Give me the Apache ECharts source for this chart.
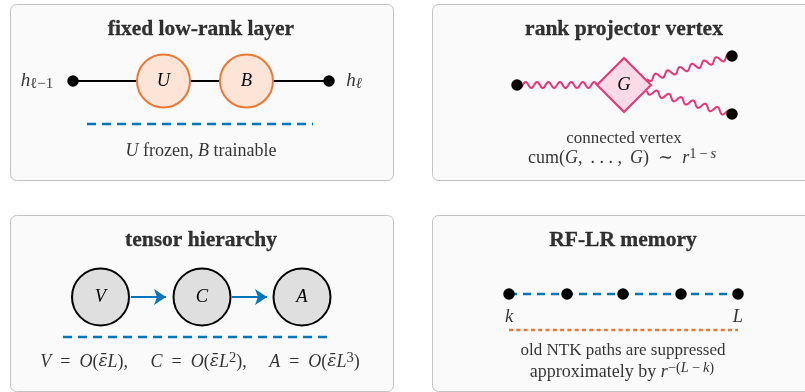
<!DOCTYPE html>
<html>
<head>
<meta charset="utf-8">
<script src="https://cdn.jsdelivr.net/npm/echarts@6/dist/echarts.min.js"></script>
<style>
  html, body { margin: 0; padding: 0; background: #ffffff; }
  #main { width: 805px; height: 392px; }
</style>
</head>
<body>
<div id="main"></div>
<script>
// ---- panel frames and titles ----
const panelTitles = ['fixed low-rank layer', 'rank projector vertex', 'tensor hierarchy', 'RF-LR memory'];
const panelBoxes = [[10, 4, 393, 180], [432, 4, 815, 180], [10, 215, 393, 391], [432, 215, 815, 391]];
const titleAnchors = [[201, 29], [624, 29], [201, 240], [623, 240]];

// ---- fixed low-rank layer ----
const layerPorts = [[73, 81], [329, 81]];
const layerFactorNames = ['U', 'B'];
const layerFactorCoords = [[163.5, 81], [246.5, 81]];
const layerNote = [[87, 124], [313, 124]];

// ---- rank projector vertex ----
const vertexName = 'G';
const vertexCoord = [624, 85];
const legEnds = [[517, 85], [732, 56], [732, 114]];
const legEdges = [[517, 85, 597, 85], [647, 79, 732, 56], [647, 91, 732, 114]];

// ---- tensor hierarchy ----
const tensorNames = ['V', 'C', 'A'];
const tensorCoords = [[100.5, 297], [202, 297], [302, 297]];
const tensorArrows = [[[131, 297], [166, 297]], [[232, 297], [267, 297]]];
const tensorNote = [[63, 337], [333, 337]];

// ---- RF-LR memory ----
const memoryLayers = [509, 567, 623, 681, 738];
const memoryRow = 294;
const memoryEndLabels = [['k', [509, 317]], ['L', [738, 317]]];
const memoryNote = [[509, 330], [738, 330]];

// ---- captions (rich-text formatted) ----
const EN = '\u2002';   // en space, used for relation spacing
const TH = '\u2009';   // thin space
const captionTexts = [
  '{hi|h}{sub|ℓ−1}',
  '{hi|h}{subit|ℓ}',
  '{it|U}{rm| frozen, }{it|B}{rm| trainable}',
  '{sm|connected vertex}',
  '{rm|cum(}{it|G}{rm|,' + TH + ' . . . ,' + TH + ' }{it|G}{rm|)' + EN + '∼' + EN + '}{it|r}{sup|1' + TH + '−' + TH + '}{supit|s}',
  '{it|V}{rm|' + EN + '=' + EN + '}{it|O}{rm|(}{eps|ε̄}{it|L}{rm|),     }{it|C}{rm|' + EN + '=' + EN + '}{it|O}{rm|(}{eps|ε̄}{it|L}{sup|2}{rm|),     }{it|A}{rm|' + EN + '=' + EN + '}{it|O}{rm|(}{eps|ε̄}{it|L}{sup|3}{rm|)}',
  '{sm|old NTK paths are suppressed}',
  '{rm|approximately by }{it|r}{sup|−(}{supit|L}{sup|' + TH + '−' + TH + '}{supit|k}{sup|)}'
];
const captionCoords = [[37, 81], [354, 81], [201, 151], [624, 139], [622, 158], [200, 362], [623, 351], [622, 372]];

const SERIF = "'Liberation Serif','DejaVu Serif','Times New Roman',serif";
const INK = '#000000';
const BLUE = '#0077bb';
const ORANGE = '#ee7733';
const MAGENTA = '#ee3377';

function tok(size, italic, extra) {
  return Object.assign({
    fontFamily: SERIF, fontSize: size, fontStyle: italic ? 'italic' : 'normal',
    color: INK, lineHeight: 22, textBorderWidth: 0
  }, extra || {});
}
const rich = {
  rm: tok(18, false),
  it: tok(18, true),
  eps: tok(17, true, { fontFamily: "'DejaVu Serif','Liberation Serif',serif" }),
  hi: tok(19, true),
  sm: tok(17, false),
  smit: tok(17, true),
  sup: tok(14.5, false, { lineHeight: 12, verticalAlign: 'top' }),
  supit: tok(14.5, true, { lineHeight: 12, verticalAlign: 'top' }),
  sub: tok(15, false, { lineHeight: 12, verticalAlign: 'bottom' }),
  subit: tok(15, true, { lineHeight: 12, verticalAlign: 'bottom' })
};

const chart = echarts.init(document.getElementById('main'), null, { renderer: 'canvas' });

function textPoints(coords, texts) {
  return coords.map((c, i) => ({ value: c, label: { formatter: texts[i] } }));
}

function dashedLine(points, color, dash, z) {
  return {
    type: 'line', data: points, symbol: 'none', silent: true, z: z || 2,
    lineStyle: { color: color, width: 2.6, type: dash },
    emphasis: { disabled: true }
  };
}

const nodeLabel = {
  show: true, position: 'inside', formatter: '{b}',
  fontFamily: SERIF, fontStyle: 'italic', fontSize: 18.5, color: INK, textBorderWidth: 0
};

chart.setOption({
  animation: false,
  backgroundColor: '#ffffff',
  grid: { left: 0, right: 0, top: 0, bottom: 0 },
  xAxis: { type: 'value', min: 0, max: 805, show: false },
  yAxis: { type: 'value', min: 0, max: 392, inverse: true, show: false },
  series: [
    // panel frames
    {
      type: 'custom', silent: true, z: 0,
      data: panelBoxes,
      renderItem: function (params, api) {
        const p0 = api.coord([api.value(0), api.value(1)]);
        const p1 = api.coord([api.value(2), api.value(3)]);
        return {
          type: 'rect',
          shape: { x: p0[0] + 0.5, y: p0[1] + 0.5, width: p1[0] - p0[0], height: p1[1] - p0[1], r: 6 },
          style: { fill: '#fafafa', stroke: '#c2c2c2', lineWidth: 1 }
        };
      }
    },
    // titles
    {
      type: 'scatter', silent: true, z: 6, symbolSize: 1,
      itemStyle: { color: 'transparent' },
      data: titleAnchors.map((c, i) => ({ value: c, name: panelTitles[i] })),
      label: {
        show: true, position: 'inside', formatter: '{b}',
        fontFamily: SERIF, fontWeight: 'bold', fontSize: 21.5, color: INK,
        textBorderColor: INK, textBorderWidth: 0.3
      },
      emphasis: { disabled: true }
    },
    // layer wire through both factors
    {
      type: 'line', data: layerPorts, symbol: 'none', silent: true, z: 2,
      lineStyle: { color: '#000000', width: 2 }, emphasis: { disabled: true }
    },
    dashedLine(layerNote, BLUE, [9, 6]),
    // U and B factors
    {
      type: 'scatter', silent: true, z: 3, symbol: 'circle', symbolSize: 53,
      data: layerFactorCoords.map((c, i) => ({ value: c, name: layerFactorNames[i] })),
      itemStyle: { color: '#fce4d6', borderColor: ORANGE, borderWidth: 2, opacity: 1 },
      label: nodeLabel, emphasis: { disabled: true }
    },
    // wavy legs of the vertex
    {
      type: 'custom', silent: true, z: 2,
      data: legEdges,
      renderItem: function (params, api) {
        const a = api.coord([api.value(0), api.value(1)]);
        const b = api.coord([api.value(2), api.value(3)]);
        const dx = b[0] - a[0], dy = b[1] - a[1];
        const len = Math.hypot(dx, dy);
        const ux = dx / len, uy = dy / len, nx = -uy, ny = ux;
        const wl = len / Math.round(len / 12);
        const pts = [];
        for (let s = 0; s <= len; s += 0.5) {
          const o = 3 * Math.sin(2 * Math.PI * s / wl);
          pts.push([a[0] + ux * s + nx * o, a[1] + uy * s + ny * o]);
        }
        pts.push(b);
        return {
          type: 'polyline', shape: { points: pts },
          style: { stroke: MAGENTA, lineWidth: 2, fill: null, lineJoin: 'round' }
        };
      }
    },
    // G vertex
    {
      type: 'scatter', silent: true, z: 3, symbol: 'diamond', symbolSize: 54,
      data: [{ value: vertexCoord, name: vertexName }],
      itemStyle: { color: '#fcdbe7', borderColor: MAGENTA, borderWidth: 2, opacity: 1 },
      label: nodeLabel, emphasis: { disabled: true }
    },
    // tensor arrows
    {
      type: 'lines', coordinateSystem: 'cartesian2d', silent: true, z: 2,
      symbol: ['none', 'arrow'], symbolSize: [10, 12],
      data: tensorArrows.map(c => ({ coords: c })),
      lineStyle: { color: BLUE, width: 2, opacity: 1, curveness: 0 },
      emphasis: { disabled: true }
    },
    dashedLine(tensorNote, BLUE, [9, 6]),
    // V, C, A
    {
      type: 'scatter', silent: true, z: 3, symbol: 'circle', symbolSize: 57,
      data: tensorCoords.map((c, i) => ({ value: c, name: tensorNames[i] })),
      itemStyle: { color: '#dfdfdf', borderColor: '#000000', borderWidth: 2, opacity: 1 },
      label: nodeLabel, emphasis: { disabled: true }
    },
    // memory chain
    dashedLine(memoryLayers.map(x => [x, memoryRow]), BLUE, [8, 6]),
    dashedLine(memoryNote, ORANGE, [4, 3.3]),
    // black terminal dots
    {
      type: 'scatter', silent: true, z: 4, symbol: 'circle', symbolSize: 11.5,
      data: layerPorts.concat(legEnds, memoryLayers.map(x => [x, memoryRow])),
      itemStyle: { color: '#000000', opacity: 1 },
      emphasis: { disabled: true }
    },
    // k and L
    {
      type: 'scatter', silent: true, z: 6, symbolSize: 1,
      itemStyle: { color: 'transparent' },
      data: memoryEndLabels.map(d => ({ value: d[1], name: d[0] })),
      label: nodeLabel, emphasis: { disabled: true }
    },
    // captions
    {
      type: 'scatter', silent: true, z: 6, symbolSize: 1,
      itemStyle: { color: 'transparent' },
      data: textPoints(captionCoords, captionTexts),
      label: { show: true, position: 'inside', rich: rich },
      emphasis: { disabled: true }
    }
  ]
});
</script>
</body>
</html>
